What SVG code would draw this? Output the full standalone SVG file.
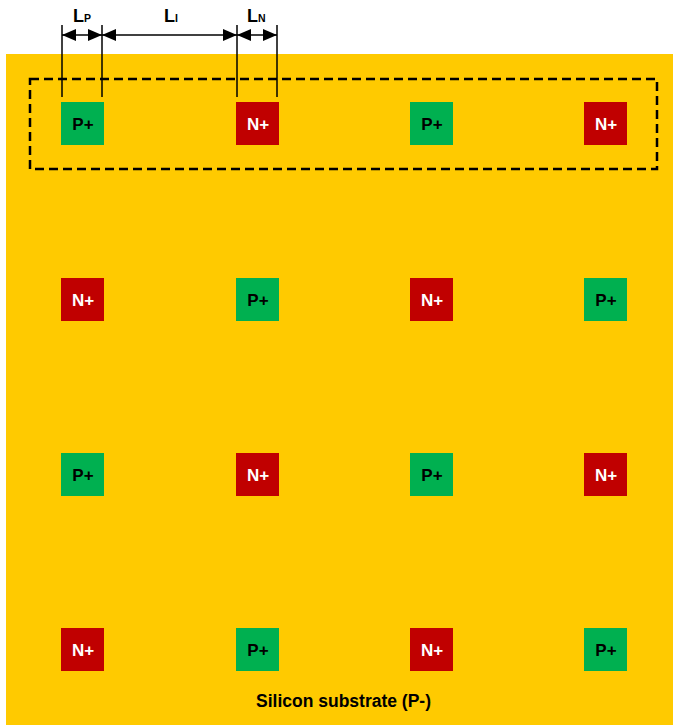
<svg xmlns="http://www.w3.org/2000/svg" width="673" height="725" viewBox="0 0 673 725">
<defs>
<style>
.p{fill:#00B050}
.n{fill:#C00000}
.lbl{font-family:"Liberation Sans",Arial,sans-serif;font-weight:bold;font-size:17px;text-anchor:middle}
.pt{fill:#000}
.nt{fill:#fff}
.foot{font-size:17.5px}
.dim{stroke:#000;stroke-width:1.5;fill:none}
.big{font-family:"Liberation Sans",Arial,sans-serif;font-weight:bold;font-size:18px;fill:#000}
.sub{font-size:10.5px}
</style>
<marker id="ah2" viewBox="0 0 14 12" refX="14" refY="6" markerWidth="14" markerHeight="12" markerUnits="userSpaceOnUse" orient="auto-start-reverse">
<path d="M0,0 L14,6 L0,12 z" fill="#000"/>
</marker>
</defs>
<rect id="substrate" x="6" y="54" width="667" height="671" fill="#FFCA00"/>
<rect id="cell" x="30" y="79" width="627" height="90" fill="none" stroke="#000" stroke-width="2.5" stroke-dasharray="9,5"/>
<g id="r1c1"><rect class="p" x="61" y="102" width="43" height="43"/><text class="lbl pt" x="83" y="130">P+</text></g>
<g id="r1c2"><rect class="n" x="236" y="102" width="43" height="43"/><text class="lbl nt" x="258" y="130">N+</text></g>
<g id="r1c3"><rect class="p" x="410" y="102" width="43" height="43"/><text class="lbl pt" x="432" y="130">P+</text></g>
<g id="r1c4"><rect class="n" x="584" y="102" width="43" height="43"/><text class="lbl nt" x="606" y="130">N+</text></g>
<g id="r2c1"><rect class="n" x="61" y="278" width="43" height="43"/><text class="lbl nt" x="83" y="306">N+</text></g>
<g id="r2c2"><rect class="p" x="236" y="278" width="43" height="43"/><text class="lbl pt" x="258" y="306">P+</text></g>
<g id="r2c3"><rect class="n" x="410" y="278" width="43" height="43"/><text class="lbl nt" x="432" y="306">N+</text></g>
<g id="r2c4"><rect class="p" x="584" y="278" width="43" height="43"/><text class="lbl pt" x="606" y="306">P+</text></g>
<g id="r3c1"><rect class="p" x="61" y="453" width="43" height="43"/><text class="lbl pt" x="83" y="481">P+</text></g>
<g id="r3c2"><rect class="n" x="236" y="453" width="43" height="43"/><text class="lbl nt" x="258" y="481">N+</text></g>
<g id="r3c3"><rect class="p" x="410" y="453" width="43" height="43"/><text class="lbl pt" x="432" y="481">P+</text></g>
<g id="r3c4"><rect class="n" x="584" y="453" width="43" height="43"/><text class="lbl nt" x="606" y="481">N+</text></g>
<g id="r4c1"><rect class="n" x="61" y="628" width="43" height="43"/><text class="lbl nt" x="83" y="656">N+</text></g>
<g id="r4c2"><rect class="p" x="236" y="628" width="43" height="43"/><text class="lbl pt" x="258" y="656">P+</text></g>
<g id="r4c3"><rect class="n" x="410" y="628" width="43" height="43"/><text class="lbl nt" x="432" y="656">N+</text></g>
<g id="r4c4"><rect class="p" x="584" y="628" width="43" height="43"/><text class="lbl pt" x="606" y="656">P+</text></g>
<g id="connectors">
<line class="dim" x1="62" y1="25" x2="62" y2="97"/>
<line class="dim" x1="102" y1="25" x2="102" y2="97"/>
<line class="dim" x1="237" y1="25" x2="237" y2="97"/>
<line class="dim" x1="277" y1="25" x2="277" y2="97"/>
<line class="dim" x1="62" y1="35" x2="102" y2="35" marker-start="url(#ah2)" marker-end="url(#ah2)"/>
<line class="dim" x1="102" y1="35" x2="237" y2="35" marker-start="url(#ah2)" marker-end="url(#ah2)"/>
<line class="dim" x1="237" y1="35" x2="277" y2="35" marker-start="url(#ah2)" marker-end="url(#ah2)"/>
</g>
<text class="big" x="73" y="22">L<tspan class="sub">P</tspan></text>
<text class="big" x="164" y="22">L<tspan class="sub">I</tspan></text>
<text class="big" x="247" y="22">L<tspan class="sub">N</tspan></text>
<text class="lbl pt foot" x="343.5" y="707">Silicon substrate (P-)</text>
</svg>
